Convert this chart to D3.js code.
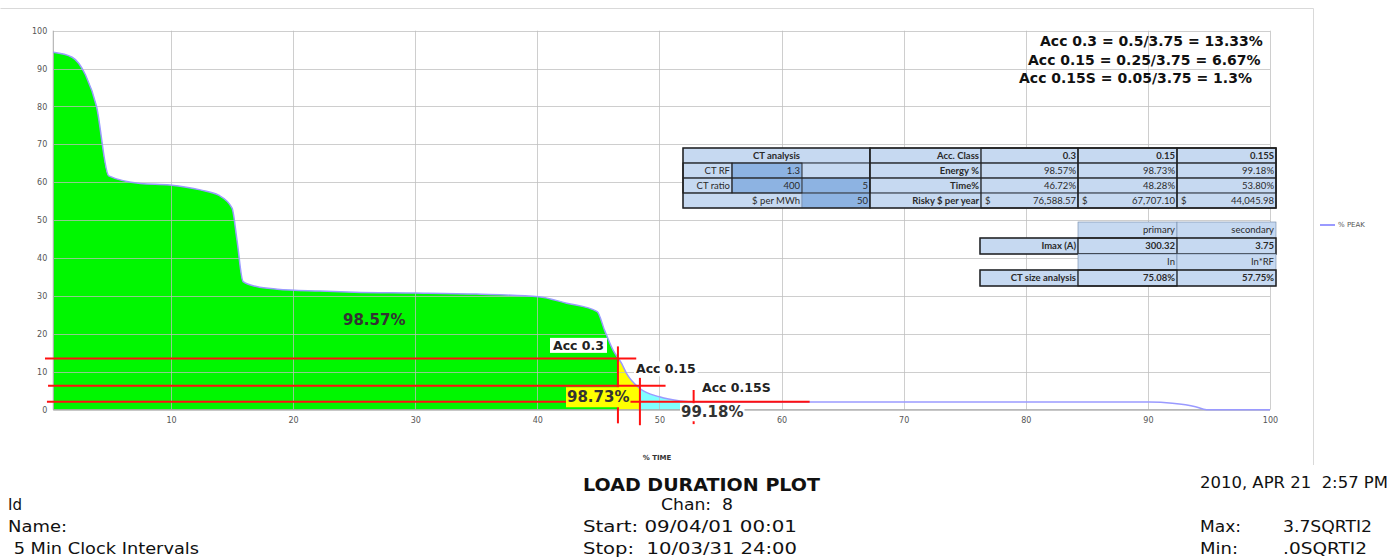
<!DOCTYPE html>
<html><head><meta charset="utf-8">
<script src="https://cdn.jsdelivr.net/npm/d3@7"></script>
<style>body{margin:0;background:#fff} svg{display:block} text{white-space:pre}</style>
</head><body><svg id="c" width="1391" height="557"></svg>
<script>
// ---- data ----
const timePct = [0.36, 1.9, 3.0, 3.9, 4.9, 7.5, 9.9, 12.4, 13.9, 15.0, 15.4, 15.9, 17.0, 18.7, 22.2, 25, 30, 35, 40.1, 42.4, 44.9, 45.5, 46.2, 46.9, 47.3, 48.4, 50.0, 51.7, 53, 90.1, 92.0, 93.9, 94.8, 100];
const peakPct = [94.3, 93.0, 88.3, 80.0, 61.7, 59.7, 59.3, 58.0, 56.6, 53.2, 44.8, 33.8, 32.5, 31.8, 31.3, 31.0, 30.8, 30.5, 29.8, 28.1, 25.9, 21.0, 15.7, 12.2, 9.6, 5.6, 3.4, 2.3, 2.0, 2.0, 1.7, 0.8, 0, 0];
const xTicks = [10, 20, 30, 40, 50, 60, 70, 80, 90, 100];
const yTicks = [0, 10, 20, 30, 40, 50, 60, 70, 80, 90, 100];
const seriesName = "% PEAK";
const xTitle = "% TIME";
const accLabels = ["Acc 0.3", "Acc 0.15", "Acc 0.15S"];
const accLevels = [13.5, 6.3, 2.1];
const accTimes = [46.6, 48.4, 52.8];
const accLineStart = [-0.32, -0.07, -0.16];
const accLineEnds = [48.1, 50.5, 62.3];
const accVTop = [16.7, 8.4, 5.2];
const accVBottom = [-3.6, -4.1, -3.8];
const areaLabels = ["98.57%", "98.73%", "99.18%"];
const accFormulas = ["Acc 0.3 = 0.5/3.75 = 13.33%", "Acc 0.15 = 0.25/3.75 = 6.67%", "Acc 0.15S = 0.05/3.75 = 1.3%"];

const ctHeader = "CT analysis";
const ctRows = [["CT RF", "1.3", ""], ["CT ratio", "400", "5"], ["$ per MWh", "50"]];
const accHeader = ["Acc. Class", "0.3", "0.15", "0.15S"];
const accRowNames = ["Energy %", "Time%", "Risky $ per year"];
const energyPct = ["98.57%", "98.73%", "99.18%"];
const timePctTbl = ["46.72%", "48.28%", "53.80%"];
const riskyDollars = ["76,588.57", "67,707.10", "44,045.98"];
const sizeCols = ["primary", "secondary"];
const imaxVals = ["300.32", "3.75"];
const inCols = ["In", "In*RF"];
const ctSizeVals = ["75.08%", "57.75%"];

const footerLeft = ["Id", "Name:", " 5 Min Clock Intervals"];
const footerTitle = "LOAD DURATION PLOT";
const footerCenter = ["Chan:  8", "Start: 09/04/01 00:01", "Stop:  10/03/31 24:00"];
const footerDate = "2010, APR 21  2:57 PM";
const footerRight = [["Max:", "3.7SQRTI2"], ["Min:", ".0SQRTI2"]];

// ---- chart ----
const svg = d3.select("#c");
const x = d3.scaleLinear().domain([0, 100]).range([48.9, 1270]);
const y = d3.scaleLinear().domain([0, 100]).range([409.7, 30.7]);
const x0 = x(timePct[0]);
const pts = timePct.map((t, i) => [t, peakPct[i]]);

// outer frame
svg.append("path").attr("d", "M0.5,8.5H1313.5V465").attr("fill", "none").attr("stroke", "#d9d9d9");

const area = d3.area().x(d => x(d[0])).y0(y(0)).y1(d => y(d[1])).curve(d3.curveMonotoneX);
const line = d3.line().x(d => x(d[0])).y(d => y(d[1])).curve(d3.curveMonotoneX);

const defs = svg.append("defs");
const fills = ["#00f700", "#ffff00", "#80ffff"];
const bounds = [x0, x(accTimes[0]), x(accTimes[1]), x(accTimes[2])];
fills.forEach((f, i) => {
  defs.append("clipPath").attr("id", "cl" + i).append("rect")
    .attr("x", bounds[i]).attr("y", 0).attr("width", bounds[i + 1] - bounds[i]).attr("height", 500);
  svg.append("path").datum(pts).attr("d", area).attr("fill", f).attr("clip-path", `url(#cl${i})`);
});

// grid
const grid = svg.append("g").attr("stroke", "#bdbdbd").attr("stroke-opacity", 0.75).attr("stroke-width", 1);
grid.selectAll("line.v").data(xTicks).join("line")
  .attr("x1", d => Math.round(x(d)) + 0.5).attr("x2", d => Math.round(x(d)) + 0.5)
  .attr("y1", y(100)).attr("y2", y(0));
grid.selectAll("line.h").data(yTicks).join("line")
  .attr("x1", x0).attr("x2", x(100))
  .attr("y1", d => Math.round(y(d)) + 0.5).attr("y2", d => Math.round(y(d)) + 0.5);
svg.append("line").attr("x1", x0).attr("x2", x0).attr("y1", y(100)).attr("y2", y(0)).attr("stroke", "#a8a8a8");
svg.append("line").attr("x1", x0).attr("x2", x(100)).attr("y1", y(0)).attr("y2", y(0)).attr("stroke", "#a8a8a8");

// axes labels
const ax = svg.append("g").attr("transform", `translate(0,${y(0)})`)
  .call(d3.axisBottom(x).tickValues(xTicks).tickSize(0).tickPadding(8));
const ay = svg.append("g").attr("transform", `translate(${x0 - 4},0)`)
  .call(d3.axisLeft(y).tickValues(yTicks).tickSize(0).tickPadding(2));
[ax, ay].forEach(a => {
  a.select(".domain").remove();
  a.selectAll("text").attr("font-family", "DejaVu Sans").attr("font-size", 8).attr("fill", "#555");
});

// curve
svg.append("path").datum(pts).attr("d", line).attr("fill", "none").attr("stroke", "#9a9aff").attr("stroke-width", 1.5);

// red lines
const red = svg.append("g").attr("stroke", "#ff1010").attr("stroke-width", 2);
accLevels.forEach((lv, i) => {
  red.append("line").attr("x1", x(accLineStart[i])).attr("x2", x(accLineEnds[i])).attr("y1", y(lv)).attr("y2", y(lv));
  red.append("line").attr("x1", x(accTimes[i])).attr("x2", x(accTimes[i])).attr("y1", y(accVTop[i])).attr("y2", y(accVBottom[i]));
});

// labels
function boxLabel(txt, cx, cy, opts) {
  const g = svg.append("g");
  const t = g.append("text").attr("x", cx).attr("y", cy).attr("dy", "0.35em")
    .attr("font-family", "DejaVu Sans").attr("font-weight", "bold")
    .attr("font-size", opts.size).attr("fill", opts.color || "#222").text(txt);
  const b = t.node().getBBox();
  g.insert("rect", "text").attr("x", b.x - opts.px).attr("y", b.y - opts.py)
    .attr("width", b.width + 2 * opts.px).attr("height", b.height + 2 * opts.py).attr("fill", opts.bg);
  return g;
}
svg.append("text").attr("x", 343).attr("y", 320).attr("dy", "0.35em").attr("font-family", "DejaVu Sans")
  .attr("font-weight", "bold").attr("font-size", 15).attr("fill", "#333").text(areaLabels[0]);
boxLabel(accLabels[0], 553, 345.5, {size: 12.5, bg: "#fff", px: 3, py: 0});
boxLabel(accLabels[1], 636, 369, {size: 12.5, bg: "#fff", px: 2, py: 0});
boxLabel(accLabels[2], 702, 388, {size: 12.5, bg: "#fff", px: 2, py: 0});
boxLabel(areaLabels[1], 567, 397, {size: 15, bg: "#ffff00", color: "#333", px: 1, py: 1});
boxLabel(areaLabels[2], 681, 412, {size: 15, bg: "#fff", color: "#333", px: 1, py: 0});

// formulas top right
const fx = [1040, 1028, 1019], fy = [41, 60, 78];
accFormulas.forEach((f, i) => svg.append("text").attr("x", fx[i]).attr("y", fy[i]).attr("dy", "0.35em")
  .attr("font-family", "DejaVu Sans").attr("font-weight", "bold").attr("font-size", 14).attr("fill", "#111").text(f));

// legend
svg.append("line").attr("x1", 1320).attr("x2", 1335).attr("y1", 225).attr("y2", 225).attr("stroke", "#9a9aff").attr("stroke-width", 2);
svg.append("text").attr("x", 1338).attr("y", 225).attr("dy", "0.35em").attr("font-family", "DejaVu Sans")
  .attr("font-size", 7).attr("fill", "#555").text(seriesName);

// ---- tables ----
const LB = "#c6d9f1", DB = "#8db3e2", TF = "Lato", FS = 9.5, TC = "#2a2a2a";
const tbl = svg.append("g");
function cell(x1, x2, y1, y2, fill) {
  tbl.append("rect").attr("x", x1).attr("y", y1).attr("width", x2 - x1).attr("height", y2 - y1)
    .attr("fill", fill).attr("stroke", "#6f86a6").attr("stroke-width", 0.6);
}
function txt(s, xx, yy, anchor, bold) {
  tbl.append("text").attr("x", xx).attr("y", yy).attr("dy", "0.35em").attr("text-anchor", anchor)
    .attr("font-family", TF).attr("font-size", FS).attr("font-weight", bold ? "bold" : "normal").attr("fill", TC).text(s);
}
function box(x1, x2, y1, y2, w) {
  tbl.append("rect").attr("x", x1).attr("y", y1).attr("width", x2 - x1).attr("height", y2 - y1)
    .attr("fill", "none").attr("stroke", "#222").attr("stroke-width", w || 1.5);
}
const cx = [683, 732, 802, 870, 981, 1078, 1177, 1276];
const ry = [148, 163, 178, 193, 208];
const mid = i => (ry[i] + ry[i + 1]) / 2;
cell(cx[0], cx[3], ry[0], ry[1], LB); txt(ctHeader, (cx[0] + cx[3]) / 2, mid(0), "middle", true);
cell(cx[0], cx[1], ry[1], ry[2], LB); txt(ctRows[0][0], cx[1] - 2, mid(1), "end");
cell(cx[1], cx[2], ry[1], ry[2], DB); txt(ctRows[0][1], cx[2] - 2, mid(1), "end");
cell(cx[2], cx[3], ry[1], ry[2], LB);
cell(cx[0], cx[1], ry[2], ry[3], LB); txt(ctRows[1][0], cx[1] - 2, mid(2), "end");
cell(cx[1], cx[2], ry[2], ry[3], DB); txt(ctRows[1][1], cx[2] - 2, mid(2), "end");
cell(cx[2], cx[3], ry[2], ry[3], DB); txt(ctRows[1][2], cx[3] - 2, mid(2), "end");
cell(cx[0], cx[2], ry[3], ry[4], LB); txt(ctRows[2][0], cx[2] - 2, mid(3), "end");
cell(cx[2], cx[3], ry[3], ry[4], DB); txt(ctRows[2][1], cx[3] - 2, mid(3), "end");
box(cx[0], cx[3], ry[0], ry[4]);
box(cx[0], cx[3], ry[1], ry[2], 0.8); box(cx[0], cx[3], ry[2], ry[3], 0.8);
box(cx[0], cx[1], ry[1], ry[3], 0.8); box(cx[1], cx[2], ry[1], ry[3], 0.8);
const rowsAcc = [accHeader.slice(1), energyPct, timePctTbl, riskyDollars];
const rowNames = [accHeader[0]].concat(accRowNames);
rowsAcc.forEach((vals, r) => {
  cell(cx[3], cx[4], ry[r], ry[r + 1], LB); txt(rowNames[r], cx[4] - 2, mid(r), "end", true);
  vals.forEach((v, c) => {
    cell(cx[4 + c], cx[5 + c], ry[r], ry[r + 1], LB);
    txt(v, cx[5 + c] - 2, mid(r), "end", r === 0);
    if (r === 3) txt("$", cx[4 + c] + 4, mid(r), "start");
  });
});
box(cx[3], cx[7], ry[0], ry[4]);
for (let c = 4; c < 7; c++) box(cx[c], cx[c + 1], ry[0], ry[4], 1.2);
box(cx[3], cx[7], ry[0], ry[1], 0.8); box(cx[3], cx[7], ry[1], ry[2], 0.8); box(cx[3], cx[7], ry[2], ry[3], 0.8);
const sx = [980, 1078, 1177, 1276], sy = [222, 238, 254, 270, 286];
const smid = i => (sy[i] + sy[i + 1]) / 2;
[[sizeCols, 0, false], [imaxVals, 1, true], [inCols, 2, false], [ctSizeVals, 3, true]].forEach(([vals, r, bordered]) => {
  if (bordered) cell(sx[0], sx[1], sy[r], sy[r + 1], LB);
  vals.forEach((v, c) => {
    cell(sx[1 + c], sx[2 + c], sy[r], sy[r + 1], LB);
    txt(v, sx[2 + c] - 2, smid(r), "end", bordered);
  });
  if (bordered) {
    txt(r === 1 ? "Imax (A)" : "CT size analysis", sx[1] - 2, smid(r), "end", true);
    box(sx[0], sx[3], sy[r], sy[r + 1]);
    box(sx[1], sx[2], sy[r], sy[r + 1], 1.2);
  }
});

// ---- footer ----
const ft = svg.append("g").attr("font-family", "DejaVu Sans").attr("fill", "#111");
function ftxt(s, xx, yy, size, w, bold) {
  const t = ft.append("text").attr("x", xx).attr("y", yy).attr("font-size", size).text(s);
  if (bold) t.attr("font-weight", "bold");
  if (w) t.attr("textLength", w).attr("lengthAdjust", "spacingAndGlyphs");
  return t;
}
ft.append("text").attr("x", 657).attr("y", 460).attr("text-anchor", "middle").attr("font-size", 7).attr("font-weight", "bold").attr("fill", "#333").text(xTitle);
ftxt(footerTitle, 583, 491, 17, 237, true);
const fyy = [510, 532, 554];
ftxt(footerLeft[0], 8, fyy[0], 15, 14);
ftxt(footerLeft[1], 8, fyy[1], 15, 59);
ftxt(footerLeft[2], 8, fyy[2], 15, 191);
ftxt(footerCenter[0], 661, fyy[0], 15, 72);
ftxt(footerCenter[1], 583, fyy[1], 15, 214);
ftxt(footerCenter[2], 583, fyy[2], 15, 214);
ftxt(footerDate, 1200, 488, 15, 188);
const rw = [[41, 89], [38, 84]];
footerRight.forEach((p, i) => {
  ftxt(p[0], 1200, fyy[i + 1], 15, rw[i][0]);
  ftxt(p[1], 1283, fyy[i + 1], 15, rw[i][1]);
});
</script></body></html>
